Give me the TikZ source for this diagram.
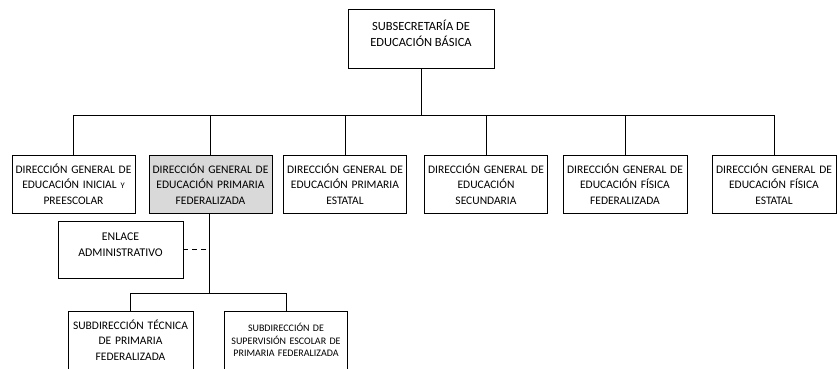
\documentclass[tikz,border=0pt]{standalone}
\usepackage{fontspec}
\setmainfont{Carlito}
\usetikzlibrary{calc}
\definecolor{boxgray}{HTML}{D9D9D9}
\begin{document}
\begin{tikzpicture}[x=1pt,y=-1pt,
  orgbox/.style={draw=black,line width=0.9pt,fill=white,align=center,inner sep=1pt,
    font=\fontsize{11.5}{15.5}\selectfont,minimum height=58pt,text width=121pt},
  boxtext/.style={align=center,inner sep=0pt},
  conn/.style={draw=black,line width=0.9pt}]
\useasboundingbox (0,0) rectangle (838,369);
\clip (0,0) rectangle (838,369);
\node[orgbox,minimum width=146pt,text width=140pt,minimum height=59pt] (top) at (421,38.5) {};
\node[boxtext,font=\fontsize{12.5}{16.5}\selectfont] (toptxt) at (421,33.5) {SUBSECRETARÍA DE\\EDUCACIÓN BÁSICA};
\node[orgbox,minimum width=123pt] (b1) at (73.5,184) {DIRECCIÓN GENERAL DE\\EDUCACIÓN INICIAL {\fontsize{8.5}{10}\selectfont Y}\\PREESCOLAR};
\node[orgbox,minimum width=123pt,fill=boxgray] (b2) at (210.5,184) {DIRECCIÓN GENERAL DE\\EDUCACIÓN PRIMARIA\\FEDERALIZADA};
\node[orgbox,minimum width=121pt] (b3) at (345,184) {DIRECCIÓN GENERAL DE\\EDUCACIÓN PRIMARIA\\ESTATAL};
\node[orgbox,minimum width=122pt] (b4) at (486,184) {DIRECCIÓN GENERAL DE\\EDUCACIÓN\\SECUNDARIA};
\node[orgbox,minimum width=124pt] (b5) at (625,184) {DIRECCIÓN GENERAL DE\\EDUCACIÓN FÍSICA\\FEDERALIZADA};
\node[orgbox,minimum width=124pt] (b6) at (774,184) {DIRECCIÓN GENERAL DE\\EDUCACIÓN FÍSICA\\ESTATAL};
\node[orgbox,minimum width=125pt,minimum height=57pt] (enl) at (120.5,249.5) {};
\node[boxtext,font=\fontsize{11.8}{15.5}\selectfont] (enltxt) at (120.5,244.5) {ENLACE\\ADMINISTRATIVO};
\node[orgbox,minimum width=125pt] (sa) at (130.5,340) {SUBDIRECCIÓN TÉCNICA\\DE PRIMARIA\\FEDERALIZADA};
\node[orgbox,minimum width=122pt,font=\fontsize{10}{12.5}\selectfont] (sb) at (286,340) {SUBDIRECCIÓN DE\\SUPERVISIÓN ESCOLAR DE\\PRIMARIA FEDERALIZADA\\[5pt]};
\coordinate (bus) at (0,115);
\coordinate (lowbus) at (0,293);
\foreach \b in {b1,b2,b3,b4,b5,b6}
  \draw[conn] (top.south) -- (top.south |- bus) -| (\b.north);
\coordinate (b2s) at ($(b2.south)+(-1.5,0)$);
\draw[conn] (b2s) -- (b2s |- lowbus) -| (sa.north);
\draw[conn] (b2s |- lowbus) -| (sb.north);
\draw[conn,dash pattern=on 5pt off 4pt] (enl.east) -- (enl.east -| b2s);
\end{tikzpicture}
\end{document}
